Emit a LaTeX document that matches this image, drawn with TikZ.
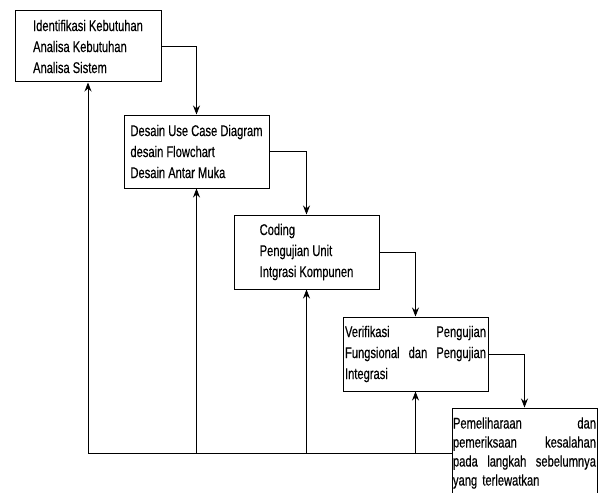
\documentclass[tikz,border=0pt]{standalone}
\usepackage{fontspec}
\setmainfont{Liberation Sans}[FakeStretch=0.72, FakeBold=0.4]
\usetikzlibrary{arrows.meta}

\begin{document}
\begin{tikzpicture}[
		x=1pt, y=-1pt,
		>={Stealth[length=9pt, width=7pt]},
		tahap/.style={draw, line width=1pt, minimum width=145pt, minimum height=73pt, inner sep=1pt, align=left, font=\fontsize{15.5}{21}\selectfont}
		]
		\useasboundingbox (0,0) rectangle (601,492);
		% Tahapan
		\node[tahap, minimum width=146pt, minimum height=71pt] (analisa) at (88,46.5) {Identifikasi Kebutuhan\\Analisa Kebutuhan\\Analisa Sistem};
		\node[tahap] (desain) at (196.5,151.5) {Desain Use Case Diagram\\desain Flowchart\\Desain Antar Muka};
		\node[tahap, minimum height=74pt] (coding) at (306.5,252) {Coding\\Pengujian Unit\\Intgrasi Kompunen};
		\node[tahap, minimum height=74pt, text width=141pt] (verifikasi) at (415.5,354) {Verifikasi\hfill Pengujian\\Fungsional\hfill dan\hfill Pengujian\\Integrasi};
		\node[tahap, minimum height=90pt, text width=143pt, font=\fontsize{15.5}{19}\selectfont] (pemeliharaan) at (524.5,453) {Pemeliharaan\hfill dan\\pemeriksaan\hfill kesalahan\\pada\hfill langkah\hfill sebelumnya\\yang terlewatkan};
		
		% Panah
		\draw[->, line width=0.8pt] (analisa) -| (desain);
		\draw[->, line width=0.8pt] (desain) -| (coding);
		\draw[->, line width=0.8pt] (coding) -| (verifikasi);
		\draw[->, line width=0.8pt] (verifikasi) -| (pemeliharaan);
		
		% Umpan balik
		\draw[line width=1pt] (pemeliharaan.west) -- (analisa.south |- pemeliharaan.west);
		\draw[->, line width=0.8pt] (analisa.south |- pemeliharaan.west) -- (analisa);
		\draw[->, line width=0.8pt] (desain.south |- pemeliharaan.west) -- (desain);
		\draw[->, line width=0.8pt] (coding.south |- pemeliharaan.west) -- (coding);
		\draw[->, line width=0.8pt] (verifikasi.south |- pemeliharaan.west) -- (verifikasi);
	\end{tikzpicture}
\end{document}
